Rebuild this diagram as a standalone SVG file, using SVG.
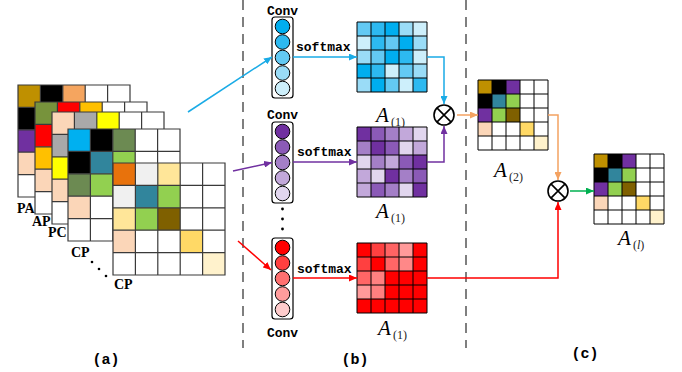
<svg xmlns="http://www.w3.org/2000/svg" xmlns:xlink="http://www.w3.org/1999/xlink" width="682" height="372" viewBox="0 0 682 372">
  <style>
    .grid { fill: none; stroke: #3a3a3a; stroke-width: 1.2; }
    .mgrid { fill: none; stroke: #000; stroke-width: 1; }
    .lbl { font-family: "Liberation Serif", serif; font-weight: bold; font-size: 14px; fill: #000; }
    .mono { font-family: "Liberation Mono", monospace; font-weight: bold; font-size: 13px; fill: #000; }
    .A { font-family: "Liberation Serif", serif; font-style: italic; font-size: 21px; fill: #000; }
    .sub { font-family: "Liberation Serif", serif; font-size: 12px; fill: #222; }
    .cap { font-family: "Liberation Mono", monospace; font-weight: bold; font-size: 15px; fill: #000; }
    .box { fill: #fff; stroke: #000; stroke-width: 1.2; }
    .dot { stroke: #000; stroke-width: 1; }
    .dash { stroke: #555; stroke-width: 1.5; stroke-dasharray: 10 7; fill: none; }
    .otimes { fill: #fff; stroke: #000; stroke-width: 1.6; }
    .ln { fill: none; stroke-width: 1.5; }
  </style>
  <defs>
    <path id="g22" d="M0 0H112V112H0Z M22.4 0V112 M44.8 0V112 M67.2 0V112 M89.6 0V112 M0 22.4H112 M0 44.8H112 M0 67.2H112 M0 89.6H112"/>
    <path id="g14" d="M0 0H70V70H0Z M14 0V70 M28 0V70 M42 0V70 M56 0V70 M0 14H70 M0 28H70 M0 42H70 M0 56H70"/>
    <marker id="mBlue" markerUnits="userSpaceOnUse" markerWidth="8" markerHeight="7" refX="8" refY="3.5" orient="auto"><path d="M0 0L8 3.5L0 7Z" fill="#1AABE6"/></marker>
    <marker id="mPurple" markerUnits="userSpaceOnUse" markerWidth="8" markerHeight="7" refX="8" refY="3.5" orient="auto"><path d="M0 0L8 3.5L0 7Z" fill="#7030A0"/></marker>
    <marker id="mRed" markerUnits="userSpaceOnUse" markerWidth="8" markerHeight="7" refX="8" refY="3.5" orient="auto"><path d="M0 0L8 3.5L0 7Z" fill="#FF0000"/></marker>
    <marker id="mOrange" markerUnits="userSpaceOnUse" markerWidth="8" markerHeight="7" refX="8" refY="3.5" orient="auto"><path d="M0 0L8 3.5L0 7Z" fill="#F4A261"/></marker>
    <marker id="mGreen" markerUnits="userSpaceOnUse" markerWidth="8" markerHeight="7" refX="8" refY="3.5" orient="auto"><path d="M0 0L8 3.5L0 7Z" fill="#00B050"/></marker>
  </defs>
  <rect width="682" height="372" fill="#fff"/>

  <!-- section separators -->
  <line class="dash" x1="243" y1="0" x2="243" y2="348"/>
  <line class="dash" x1="466" y1="0" x2="466" y2="348"/>

  <!-- (a) stacked channel maps -->
  <g id="map-PA" transform="translate(18,85)">
    <rect width="112" height="112" fill="#fff"/>
    <rect x="0" y="0" width="22.4" height="22.4" fill="#BF9000"/>
    <rect x="22.4" y="0" width="22.4" height="22.4" fill="#000"/>
    <rect x="44.8" y="0" width="22.4" height="22.4" fill="#F5A55F"/>
    <rect x="0" y="22.4" width="22.4" height="22.4" fill="#000"/>
    <rect x="0" y="44.8" width="22.4" height="22.4" fill="#7030A0"/>
    <rect x="0" y="67.2" width="22.4" height="22.4" fill="#FBD6B8"/>
    <use href="#g22" class="grid"/>
  </g>
  <g id="map-AP" transform="translate(35,102)">
    <rect width="112" height="112" fill="#fff"/>
    <rect x="0" y="0" width="22.4" height="22.4" fill="#77933C"/>
    <rect x="22.4" y="0" width="22.4" height="22.4" fill="#FF0000"/>
    <rect x="44.8" y="0" width="22.4" height="22.4" fill="#FFC000"/>
    <rect x="0" y="22.4" width="22.4" height="22.4" fill="#FF0000"/>
    <rect x="0" y="44.8" width="22.4" height="22.4" fill="#FFC000"/>
    <rect x="0" y="67.2" width="22.4" height="22.4" fill="#FBD6B8"/>
    <use href="#g22" class="grid"/>
  </g>
  <g id="map-PC" transform="translate(52,112)">
    <rect width="112" height="112" fill="#fff"/>
    <rect x="0" y="0" width="22.4" height="22.4" fill="#FBD6B8"/>
    <rect x="22.4" y="0" width="22.4" height="22.4" fill="#A9A9A9"/>
    <rect x="44.8" y="0" width="22.4" height="22.4" fill="#FFFF00"/>
    <rect x="0" y="22.4" width="22.4" height="22.4" fill="#A9A9A9"/>
    <rect x="0" y="44.8" width="22.4" height="22.4" fill="#FFFF00"/>
    <rect x="0" y="67.2" width="22.4" height="22.4" fill="#FBD6B8"/>
    <use href="#g22" class="grid"/>
  </g>
  <g id="map-CP1" transform="translate(68,129)">
    <rect width="112" height="112" fill="#fff"/>
    <rect x="0" y="0" width="22.4" height="22.4" fill="#00B0F0"/>
    <rect x="22.4" y="0" width="22.4" height="22.4" fill="#000"/>
    <rect x="44.8" y="0" width="22.4" height="22.4" fill="#6C8A52"/>
    <rect x="0" y="22.4" width="22.4" height="22.4" fill="#000"/>
    <rect x="22.4" y="22.4" width="22.4" height="22.4" fill="#31859C"/>
    <rect x="44.8" y="22.4" width="22.4" height="22.4" fill="#92D050"/>
    <rect x="0" y="44.8" width="22.4" height="22.4" fill="#6C8A52"/>
    <rect x="22.4" y="44.8" width="22.4" height="22.4" fill="#92D050"/>
    <rect x="0" y="67.2" width="22.4" height="22.4" fill="#FBD6B8"/>
    <use href="#g22" class="grid"/>
  </g>
  <g id="map-CPn" transform="translate(113,163)">
    <rect width="112" height="112" fill="#fff"/>
    <rect x="0" y="0" width="22.4" height="22.4" fill="#E8720C"/>
    <rect x="22.4" y="0" width="22.4" height="22.4" fill="#F0F0F0"/>
    <rect x="44.8" y="0" width="22.4" height="22.4" fill="#FFE699"/>
    <rect x="0" y="22.4" width="22.4" height="22.4" fill="#F0F0F0"/>
    <rect x="22.4" y="22.4" width="22.4" height="22.4" fill="#31859C"/>
    <rect x="44.8" y="22.4" width="22.4" height="22.4" fill="#92D050"/>
    <rect x="0" y="44.8" width="22.4" height="22.4" fill="#FFE699"/>
    <rect x="22.4" y="44.8" width="22.4" height="22.4" fill="#92D050"/>
    <rect x="44.8" y="44.8" width="22.4" height="22.4" fill="#7F6000"/>
    <rect x="0" y="67.2" width="22.4" height="22.4" fill="#FBD6B8"/>
    <rect x="67.2" y="67.2" width="22.4" height="22.4" fill="#FFD966"/>
    <rect x="89.6" y="89.6" width="22.4" height="22.4" fill="#FFF2CC"/>
    <use href="#g22" class="grid"/>
  </g>
  <g id="stack-labels">
    <text class="lbl" x="17" y="213">PA</text>
    <text class="lbl" x="32" y="226">AP</text>
    <text class="lbl" x="48" y="237">PC</text>
    <text class="lbl" x="71" y="257">CP</text>
    <text class="lbl" x="114" y="289">CP</text>
    <circle cx="92" cy="262" r="1.3"/>
    <circle cx="99" cy="269" r="1.3"/>
    <circle cx="106" cy="276" r="1.3"/>
  </g>

  <!-- (b) conv branches -->
  <g id="conv-blue">
    <text class="mono" x="282.5" y="15" text-anchor="middle">Conv</text>
    <rect class="box" x="272" y="17" width="21" height="81" rx="3"/>
    <circle class="dot" cx="282.5" cy="26.5" r="7.3" fill="#00AEEF"/>
    <circle class="dot" cx="282.5" cy="42" r="7.3" fill="#2DB9F0"/>
    <circle class="dot" cx="282.5" cy="57.5" r="7.3" fill="#63C9F3"/>
    <circle class="dot" cx="282.5" cy="73" r="7.3" fill="#9ADCF7"/>
    <circle class="dot" cx="282.5" cy="88.5" r="7.3" fill="#CDEFFB"/>
  </g>
  <g id="conv-purple">
    <text class="mono" x="282.5" y="119" text-anchor="middle">Conv</text>
    <rect class="box" x="272" y="122" width="21" height="81" rx="3"/>
    <circle class="dot" cx="282.5" cy="131.5" r="7.3" fill="#7030A0"/>
    <circle class="dot" cx="282.5" cy="147" r="7.3" fill="#8B5AB7"/>
    <circle class="dot" cx="282.5" cy="162.5" r="7.3" fill="#A47FC7"/>
    <circle class="dot" cx="282.5" cy="178" r="7.3" fill="#C2A8DA"/>
    <circle class="dot" cx="282.5" cy="193.5" r="7.3" fill="#E1D6EE"/>
  </g>
  <g id="vdots">
    <circle cx="282.5" cy="209" r="1.4"/>
    <circle cx="282.5" cy="219" r="1.4"/>
    <circle cx="282.5" cy="229" r="1.4"/>
  </g>
  <g id="conv-red">
    <rect class="box" x="272" y="238" width="21" height="81" rx="3"/>
    <circle class="dot" cx="282.5" cy="247.5" r="7.3" fill="#FF0000"/>
    <circle class="dot" cx="282.5" cy="263" r="7.3" fill="#FF4040"/>
    <circle class="dot" cx="282.5" cy="278.5" r="7.3" fill="#FF7070"/>
    <circle class="dot" cx="282.5" cy="294" r="7.3" fill="#FF9C9C"/>
    <circle class="dot" cx="282.5" cy="309.5" r="7.3" fill="#FFCCCC"/>
    <text class="mono" x="282.5" y="337" text-anchor="middle">Conv</text>
  </g>

  <!-- attention matrices -->
  <g id="att-blue" transform="translate(357,22)">
    <rect x="0" y="0" width="14" height="14" fill="#63C9F3"/><rect x="14" y="0" width="14" height="14" fill="#2DB9F0"/><rect x="28" y="0" width="14" height="14" fill="#00AEEF"/><rect x="42" y="0" width="14" height="14" fill="#9ADCF7"/><rect x="56" y="0" width="14" height="14" fill="#CDEFFB"/>
    <rect x="0" y="14" width="14" height="14" fill="#CDEFFB"/><rect x="14" y="14" width="14" height="14" fill="#2DB9F0"/><rect x="28" y="14" width="14" height="14" fill="#63C9F3"/><rect x="42" y="14" width="14" height="14" fill="#00AEEF"/><rect x="56" y="14" width="14" height="14" fill="#9ADCF7"/>
    <rect x="0" y="28" width="14" height="14" fill="#9ADCF7"/><rect x="14" y="28" width="14" height="14" fill="#63C9F3"/><rect x="28" y="28" width="14" height="14" fill="#00AEEF"/><rect x="42" y="28" width="14" height="14" fill="#2DB9F0"/><rect x="56" y="28" width="14" height="14" fill="#CDEFFB"/>
    <rect x="0" y="42" width="14" height="14" fill="#00AEEF"/><rect x="14" y="42" width="14" height="14" fill="#2DB9F0"/><rect x="28" y="42" width="14" height="14" fill="#CDEFFB"/><rect x="42" y="42" width="14" height="14" fill="#63C9F3"/><rect x="56" y="42" width="14" height="14" fill="#9ADCF7"/>
    <rect x="0" y="56" width="14" height="14" fill="#9ADCF7"/><rect x="14" y="56" width="14" height="14" fill="#00AEEF"/><rect x="28" y="56" width="14" height="14" fill="#63C9F3"/><rect x="42" y="56" width="14" height="14" fill="#CDEFFB"/><rect x="56" y="56" width="14" height="14" fill="#2DB9F0"/>
    <use href="#g14" class="mgrid"/>
    <text class="A" x="19" y="100">A</text><text class="sub" x="34" y="104">(1)</text>
  </g>
  <g id="att-purple" transform="translate(357,127)">
    <rect x="0" y="0" width="14" height="14" fill="#7030A0"/><rect x="14" y="0" width="14" height="14" fill="#8B5AB7"/><rect x="28" y="0" width="14" height="14" fill="#A47FC7"/><rect x="42" y="0" width="14" height="14" fill="#C2A8DA"/><rect x="56" y="0" width="14" height="14" fill="#E1D6EE"/>
    <rect x="0" y="14" width="14" height="14" fill="#A47FC7"/><rect x="14" y="14" width="14" height="14" fill="#7030A0"/><rect x="28" y="14" width="14" height="14" fill="#8B5AB7"/><rect x="42" y="14" width="14" height="14" fill="#E1D6EE"/><rect x="56" y="14" width="14" height="14" fill="#C2A8DA"/>
    <rect x="0" y="28" width="14" height="14" fill="#E1D6EE"/><rect x="14" y="28" width="14" height="14" fill="#A47FC7"/><rect x="28" y="28" width="14" height="14" fill="#C2A8DA"/><rect x="42" y="28" width="14" height="14" fill="#8B5AB7"/><rect x="56" y="28" width="14" height="14" fill="#7030A0"/>
    <rect x="0" y="42" width="14" height="14" fill="#C2A8DA"/><rect x="14" y="42" width="14" height="14" fill="#E1D6EE"/><rect x="28" y="42" width="14" height="14" fill="#7030A0"/><rect x="42" y="42" width="14" height="14" fill="#A47FC7"/><rect x="56" y="42" width="14" height="14" fill="#8B5AB7"/>
    <rect x="0" y="56" width="14" height="14" fill="#C2A8DA"/><rect x="14" y="56" width="14" height="14" fill="#8B5AB7"/><rect x="28" y="56" width="14" height="14" fill="#A47FC7"/><rect x="42" y="56" width="14" height="14" fill="#E1D6EE"/><rect x="56" y="56" width="14" height="14" fill="#7030A0"/>
    <use href="#g14" class="mgrid"/>
    <text class="A" x="19" y="91">A</text><text class="sub" x="34" y="95">(1)</text>
  </g>
  <g id="att-red" transform="translate(357,243)">
    <rect x="0" y="0" width="14" height="14" fill="#FF0000"/><rect x="14" y="0" width="14" height="14" fill="#FF4040"/><rect x="28" y="0" width="14" height="14" fill="#FF6464"/><rect x="42" y="0" width="14" height="14" fill="#FF9A9A"/><rect x="56" y="0" width="14" height="14" fill="#FF0000"/>
    <rect x="0" y="14" width="14" height="14" fill="#FF4040"/><rect x="14" y="14" width="14" height="14" fill="#FF0000"/><rect x="28" y="14" width="14" height="14" fill="#FF6666"/><rect x="42" y="14" width="14" height="14" fill="#FF8888"/><rect x="56" y="14" width="14" height="14" fill="#FF0000"/>
    <rect x="0" y="28" width="14" height="14" fill="#FF6666"/><rect x="14" y="28" width="14" height="14" fill="#FF8080"/><rect x="28" y="28" width="14" height="14" fill="#FF0000"/><rect x="42" y="28" width="14" height="14" fill="#FF0000"/><rect x="56" y="28" width="14" height="14" fill="#FF0000"/>
    <rect x="0" y="42" width="14" height="14" fill="#FF9A9A"/><rect x="14" y="42" width="14" height="14" fill="#FF8080"/><rect x="28" y="42" width="14" height="14" fill="#FF0000"/><rect x="42" y="42" width="14" height="14" fill="#FF0000"/><rect x="56" y="42" width="14" height="14" fill="#FF0000"/>
    <rect x="0" y="56" width="70" height="14" fill="#FF0000"/>
    <use href="#g14" class="mgrid"/>
    <text class="A" x="21" y="92">A</text><text class="sub" x="36" y="96">(1)</text>
  </g>

  <!-- (c) fused maps -->
  <g id="att-A2" transform="translate(478,80)">
    <rect width="70" height="70" fill="#fff"/>
    <rect x="0" y="0" width="14" height="14" fill="#BF9000"/><rect x="14" y="0" width="14" height="14" fill="#000"/><rect x="28" y="0" width="14" height="14" fill="#7030A0"/>
    <rect x="0" y="14" width="14" height="14" fill="#000"/><rect x="14" y="14" width="14" height="14" fill="#31859C"/><rect x="28" y="14" width="14" height="14" fill="#92D050"/>
    <rect x="0" y="28" width="14" height="14" fill="#7030A0"/><rect x="14" y="28" width="14" height="14" fill="#92D050"/><rect x="28" y="28" width="14" height="14" fill="#7F6000"/>
    <rect x="0" y="42" width="14" height="14" fill="#FBD6B8"/><rect x="42" y="42" width="14" height="14" fill="#FFD966"/>
    <rect x="56" y="56" width="14" height="14" fill="#FFF2CC"/>
    <use href="#g14" class="mgrid"/>
    <text class="A" x="16" y="97">A</text><text class="sub" x="31" y="101">(2)</text>
  </g>
  <g id="att-Al" transform="translate(594,154)">
    <rect width="70" height="70" fill="#fff"/>
    <rect x="0" y="0" width="14" height="14" fill="#BF9000"/><rect x="14" y="0" width="14" height="14" fill="#000"/><rect x="28" y="0" width="14" height="14" fill="#7030A0"/>
    <rect x="0" y="14" width="14" height="14" fill="#000"/><rect x="14" y="14" width="14" height="14" fill="#31859C"/><rect x="28" y="14" width="14" height="14" fill="#92D050"/>
    <rect x="0" y="28" width="14" height="14" fill="#7030A0"/><rect x="14" y="28" width="14" height="14" fill="#92D050"/><rect x="28" y="28" width="14" height="14" fill="#7F6000"/>
    <rect x="0" y="42" width="14" height="14" fill="#FBD6B8"/><rect x="42" y="42" width="14" height="14" fill="#FFD966"/>
    <rect x="56" y="56" width="14" height="14" fill="#FFF2CC"/>
    <use href="#g14" class="mgrid"/>
    <text class="A" x="24" y="91">A</text><text class="sub" x="39" y="95">(<tspan font-style="italic">l</tspan>)</text>
  </g>

  <g id="mul-1">
    <circle class="otimes" cx="444" cy="115" r="10"/>
    <path d="M436.9 107.9L451.1 122.1M451.1 107.9L436.9 122.1" stroke="#000" stroke-width="1.6"/>
  </g>
  <g id="mul-2">
    <circle class="otimes" cx="558" cy="191" r="10"/>
    <path d="M550.9 183.9L565.1 198.1M565.1 183.9L550.9 198.1" stroke="#000" stroke-width="1.6"/>
  </g>

  <!-- connectors -->
  <g id="connectors">
    <line class="ln" x1="188" y1="112" x2="272" y2="57" stroke="#1AABE6" marker-end="url(#mBlue)"/>
    <line class="ln" x1="233" y1="171" x2="272" y2="162.5" stroke="#7030A0" marker-end="url(#mPurple)"/>
    <line class="ln" x1="238" y1="241" x2="271" y2="270" stroke="#FF0000" marker-end="url(#mRed)"/>
    <line class="ln" x1="293" y1="57" x2="357" y2="57" stroke="#1AABE6" marker-end="url(#mBlue)"/>
    <line class="ln" x1="293" y1="162" x2="357" y2="162" stroke="#7030A0" marker-end="url(#mPurple)"/>
    <line class="ln" x1="293" y1="278" x2="357" y2="278" stroke="#FF0000" marker-end="url(#mRed)"/>
    <polyline class="ln" points="427,57 444,57 444,104" stroke="#1AABE6" marker-end="url(#mBlue)"/>
    <polyline class="ln" points="427,162 444,162 444,126" stroke="#7030A0" marker-end="url(#mPurple)"/>
    <polyline class="ln" points="427,278 558,278 558,202" stroke="#FF0000" marker-end="url(#mRed)"/>
    <line class="ln" x1="457" y1="115" x2="478" y2="115" stroke="#F4A261" marker-end="url(#mOrange)"/>
    <polyline class="ln" points="548,115 558,115 558,180" stroke="#F4A261" marker-end="url(#mOrange)"/>
    <line class="ln" x1="570" y1="191" x2="594" y2="191" stroke="#00B050" marker-end="url(#mGreen)"/>
  </g>

  <g id="softmax-labels">
    <text class="mono" x="296" y="51">softmax</text>
    <text class="mono" x="297" y="156">softmax</text>
    <text class="mono" x="297" y="273">softmax</text>
  </g>

  <g id="captions">
    <text class="cap" x="106" y="364" text-anchor="middle">(a)</text>
    <text class="cap" x="355" y="364" text-anchor="middle">(b)</text>
    <text class="cap" x="585" y="358" text-anchor="middle">(c)</text>
  </g>
</svg>
